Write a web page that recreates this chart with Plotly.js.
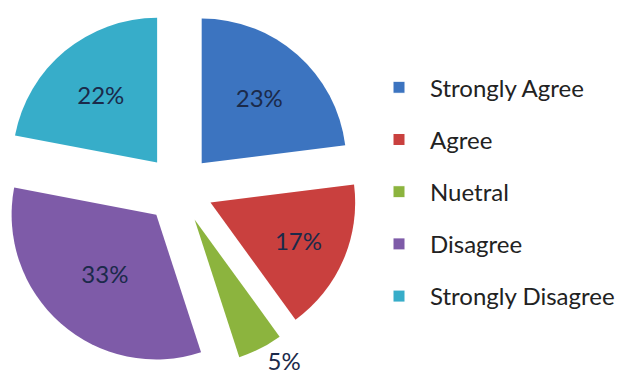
<!DOCTYPE html>
<html>
<head>
<meta charset="utf-8">
<script src="https://cdn.plot.ly/plotly-3.0.1.min.js"></script>
<style>html,body{margin:0;padding:0;background:#fff;}#chart{width:628px;height:379px;}</style>
</head>
<body>
<div id="chart"></div>
<script>
const categories = ["Strongly Agree", "Agree", "Nuetral", "Disagree", "Strongly Disagree"];
const percentValues = [23, 17, 5, 33, 22];
const sliceColors = ["#3C74C0", "#C9403E", "#8CB43E", "#7E5BA8", "#37ADC9"];
const labelPositions = ["inside", "inside", "outside", "inside", "inside"];

const pie = {
  type: "pie",
  labels: categories,
  values: percentValues,
  sort: false,
  direction: "clockwise",
  rotation: 0,
  pull: [0.237, 0.237, 0.237, 0.237, 0.237],
  marker: { colors: sliceColors, line: { width: 0 } },
  textinfo: "percent",
  texttemplate: "%{percent:.0%}",
  textposition: labelPositions,
  insidetextorientation: "horizontal",
  textfont: { family: "Lato, 'Open Sans', sans-serif", size: 24, color: "#1B2A4A" },
  outsidetextfont: { family: "Lato, 'Open Sans', sans-serif", size: 24, color: "#1B2A4A" },
  showlegend: false,
  automargin: false,
  domain: { x: [0, 358 / 628], y: [1 - 369.6 / 379, 1 - 8.4 / 379] },
  hoverinfo: "label+percent"
};

const legendTraces = categories.map((c, i) => ({
  type: "scatter",
  mode: "markers",
  x: [null], y: [null],
  name: c,
  legendgroup: "g" + i,
  marker: { symbol: "square", size: 12, color: sliceColors[i], line: { color: "#ffffff", width: 1 } },
  hoverinfo: "skip"
}));

const layout = {
  width: 628, height: 379,
  margin: { l: 0, r: 0, t: 0, b: 0 },
  paper_bgcolor: "#ffffff",
  plot_bgcolor: "#ffffff",
  xaxis: { visible: false, domain: [0.62, 0.63] },
  yaxis: { visible: false },
  showlegend: true,
  legend: {
    x: 0.586, y: 0.828, xanchor: "left", yanchor: "top",
    font: { family: "Lato, 'Open Sans', sans-serif", size: 24, color: "#222222" },
    tracegroupgap: 18,
    itemwidth: 52,
    bgcolor: "rgba(0,0,0,0)"
  }
};

Plotly.newPlot("chart", [pie].concat(legendTraces), layout, { displayModeBar: false, staticPlot: true });
</script>
</body>
</html>
